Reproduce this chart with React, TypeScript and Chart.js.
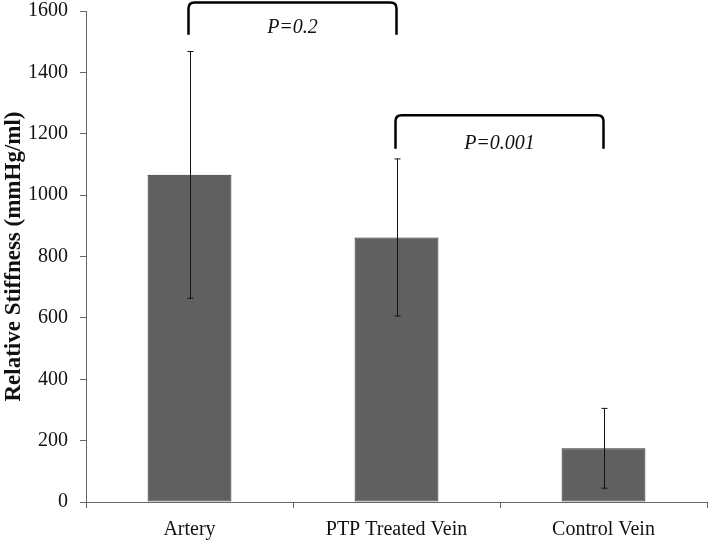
import React, { useEffect, useRef } from "react";
import { Chart, registerables } from "chart.js";

Chart.register(...registerables);

const categories = ["Artery", "PTP Treated Vein", "Control Vein"];
const means = [1066, 862, 175];
const errors = [402, 256, 130];
const yMin = 0;
const yMax = 1600;
const yStep = 200;
const yTitle = "Relative Stiffness (mmHg/ml)";
const bracketFrom = [0, 1];
const bracketTo = [1, 2];
const bracketTop = [1628, 1260];
const bracketEnd = [1523, 1151];
const bracketLabels = ["P=0.2", "P=0.001"];
const bracketLabelY = [1544, 1169];

const SERIF = "'Liberation Serif', 'Times New Roman', serif";

const errorBarPlugin = {
  id: "errorBars",
  afterDatasetsDraw(chart: any) {
    const { ctx, scales } = chart;
    const x = scales.x;
    const y = scales.y;
    ctx.save();
    ctx.strokeStyle = "#111";
    ctx.lineWidth = 1;
    means.forEach((m, i) => {
      const px = Math.round(x.getPixelForValue(i)) + 0.5;
      const top = y.getPixelForValue(m + errors[i]);
      const bot = y.getPixelForValue(m - errors[i]);
      ctx.beginPath();
      ctx.moveTo(px, top);
      ctx.lineTo(px, bot);
      ctx.moveTo(px - 3, top);
      ctx.lineTo(px + 3, top);
      ctx.moveTo(px - 3, bot);
      ctx.lineTo(px + 3, bot);
      ctx.stroke();
    });
    ctx.restore();
  },
};

const bracketPlugin = {
  id: "brackets",
  afterDraw(chart: any) {
    const { ctx, scales } = chart;
    const x = scales.x;
    const y = scales.y;
    ctx.save();
    ctx.strokeStyle = "#000";
    ctx.lineWidth = 2.5;
    ctx.lineJoin = "round";
    bracketFrom.forEach((f, i) => {
      const x1 = x.getPixelForValue(f) - 1;
      const x2 = x.getPixelForValue(bracketTo[i]);
      const yt = y.getPixelForValue(bracketTop[i]);
      const ye = y.getPixelForValue(bracketEnd[i]);
      const r = 6;
      ctx.beginPath();
      ctx.moveTo(x1, ye);
      ctx.lineTo(x1, yt + r);
      ctx.quadraticCurveTo(x1, yt, x1 + r, yt);
      ctx.lineTo(x2 - r, yt);
      ctx.quadraticCurveTo(x2, yt, x2, yt + r);
      ctx.lineTo(x2, ye);
      ctx.stroke();
      ctx.fillStyle = "#111";
      ctx.font = `italic 20px ${SERIF}`;
      ctx.textAlign = "center";
      ctx.textBaseline = "middle";
      ctx.fillText(bracketLabels[i], (x1 + x2) / 2, y.getPixelForValue(bracketLabelY[i]));
    });
    ctx.restore();
  },
};

export default function App() {
  const ref = useRef<HTMLCanvasElement | null>(null);
  useEffect(() => {
    document.body.style.margin = "0";
    const canvas = ref.current;
    if (!canvas) return;
    const chart = new Chart(canvas, {
      type: "bar",
      data: {
        labels: categories,
        datasets: [
          {
            data: means,
            backgroundColor: "#606060",
            borderColor: "#2a2a2a",
            borderWidth: 1,
            borderSkipped: false,
            categoryPercentage: 1,
            barPercentage: 0.405,
          },
        ],
      },
      options: {
        responsive: false,
        animation: false,
        devicePixelRatio: 1,
        layout: { padding: { top: 11, right: 2, left: 0, bottom: 0 } },
        plugins: {
          legend: { display: false },
          tooltip: { enabled: false },
        },
        scales: {
          x: {
            offset: true,
            grid: {
              display: true,
              drawOnChartArea: false,
              drawTicks: true,
              tickLength: 6,
              color: "#666",
              offset: true,
            },
            border: { color: "#666", width: 1 },
            ticks: {
              color: "#111",
              font: { family: SERIF, size: 20 },
              padding: 10,
            },
            afterFit(scale: any) {
              scale.height = 38;
              scale.paddingLeft = 0;
              scale.paddingRight = 0;
            },
          },
          y: {
            min: yMin,
            max: yMax,
            ticks: {
              stepSize: yStep,
              color: "#111",
              font: { family: SERIF, size: 20 },
              padding: 12,
              callback: (v: any) => String(v),
            },
            grid: {
              display: true,
              drawOnChartArea: false,
              drawTicks: true,
              tickLength: 6,
              color: "#666",
            },
            border: { color: "#666", width: 1 },
            title: {
              display: true,
              text: yTitle,
              color: "#111",
              font: { family: SERIF, size: 23, weight: "bold" },
              padding: { top: 0, bottom: 0 },
            },
            afterFit(scale: any) {
              scale.width = 86;
              scale.paddingTop = 0;
              scale.paddingBottom = 0;
            },
          },
        },
      },
      plugins: [errorBarPlugin, bracketPlugin],
    });
    return () => chart.destroy();
  }, []);
  return <canvas ref={ref} width={709} height={540} style={{ display: "block" }} />;
}
